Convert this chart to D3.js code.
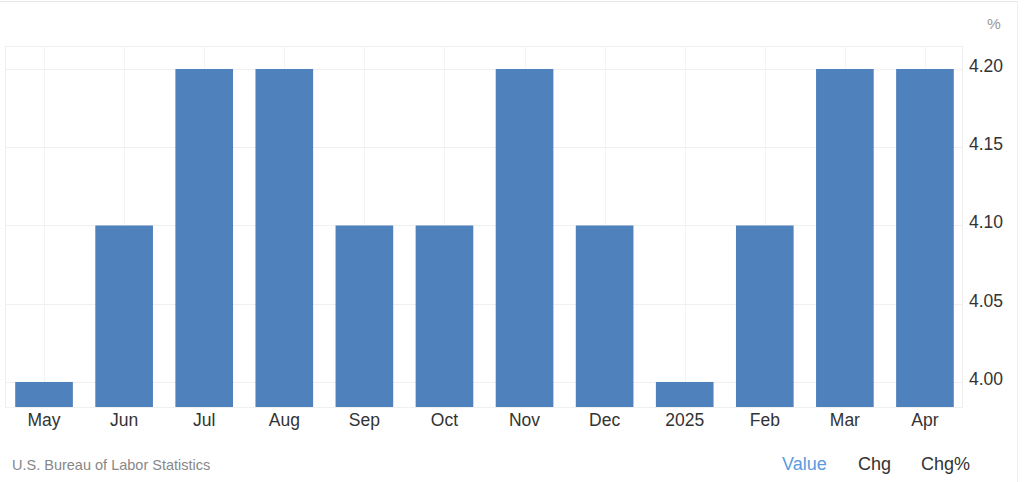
<!DOCTYPE html>
<html><head><meta charset="utf-8">
<script src="https://cdn.jsdelivr.net/npm/d3@7"></script>
<style>
html,body{margin:0;padding:0;background:#fff;}
svg{display:block;font-family:"Liberation Sans",Arial,sans-serif;}
</style></head>
<body><svg id="c" width="1024" height="482"></svg>
<script>
const categories = ["May","Jun","Jul","Aug","Sep","Oct","Nov","Dec","2025","Feb","Mar","Apr"];
const values = [4.0,4.1,4.2,4.2,4.1,4.1,4.2,4.1,4.0,4.1,4.2,4.2];
const yTicks = [4.00,4.05,4.10,4.15,4.20];
const unitLabel = "%";
const sourceLabel = "U.S. Bureau of Labor Statistics";
const legendItems = ["Value","Chg","Chg%"];

(function(){
const svg = d3.select("#c");
const W = 1024, H = 482;
const pL = 5, pR = 962, pT = 46, pB = 407;
const FF = "'Liberation Sans',Arial,sans-serif";

svg.append("line").attr("x1",0).attr("x2",1018).attr("y1",1.5).attr("y2",1.5).attr("stroke","#e6e6e6");
svg.append("line").attr("x1",1017.5).attr("x2",1017.5).attr("y1",1).attr("y2",H).attr("stroke","#eeeeee");

const x = d3.scaleBand().domain(categories).range([4,965]).paddingInner(0.28).paddingOuter(0.14);
const y = d3.scaleLinear().domain([3.984,4.2147]).range([pB,pT]);

const g = svg.append("g");
g.append("rect").attr("x",pL+0.5).attr("y",pT+0.5).attr("width",pR-pL).attr("height",pB-pT)
  .attr("fill","none").attr("stroke","#f0f0f0");
g.selectAll(".hg").data(yTicks).join("line")
  .attr("x1",pL).attr("x2",pR).attr("y1",d=>Math.round(y(d))+0.5).attr("y2",d=>Math.round(y(d))+0.5)
  .attr("stroke","#f0f0f0");
g.selectAll(".vg").data(categories).join("line")
  .attr("x1",d=>Math.round(x(d)+x.bandwidth()/2)+0.5).attr("x2",d=>Math.round(x(d)+x.bandwidth()/2)+0.5)
  .attr("y1",pT).attr("y2",pB).attr("stroke","#f3f3f3");

g.selectAll(".bar").data(values).join("rect")
  .attr("x",(d,i)=>x(categories[i]))
  .attr("width",x.bandwidth())
  .attr("y",d=>y(d))
  .attr("height",d=>pB-y(d))
  .attr("fill","#4f81bd");

const yAxis = d3.axisRight(y).tickValues(yTicks).tickFormat(d3.format(".2f")).tickSize(0).tickPadding(0);
const ya = svg.append("g").attr("transform",`translate(969,0)`).call(yAxis);
ya.select(".domain").remove();
ya.selectAll("text").attr("font-size",17.5).attr("fill","#333").attr("font-family",FF).attr("dy",2.5);

svg.append("text").attr("x",987).attr("y",29).attr("font-size",15.5).attr("fill","#999").attr("font-family",FF).text(unitLabel);

const xAxis = d3.axisBottom(x).tickSize(0).tickPadding(0);
const xa = svg.append("g").attr("transform",`translate(0,${pB})`).call(xAxis);
xa.select(".domain").remove();
xa.selectAll("text").attr("font-size",17.5).attr("fill","#333").attr("font-family",FF).attr("y",19).attr("dy",0);

svg.append("text").attr("x",12).attr("y",470).attr("font-size",14.5).attr("fill","#888").attr("font-family",FF).text(sourceLabel);

const legX = [782,858,921];
svg.selectAll(".leg").data(legendItems).join("text")
  .attr("x",(d,i)=>legX[i]).attr("y",470).attr("font-size",18).attr("font-family",FF)
  .attr("fill",(d,i)=>i===0?"#5b9be0":"#333").text(d=>d);
})();
</script></body></html>
